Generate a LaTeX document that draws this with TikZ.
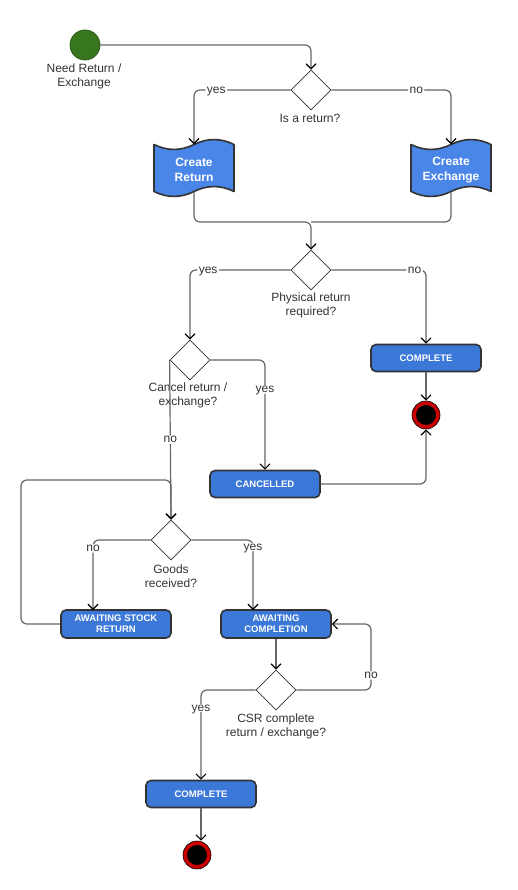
\documentclass[tikz,border=0pt]{standalone}
\usepackage{fontspec}
\setmainfont{Liberation Sans}
\usetikzlibrary{shapes.geometric,arrows.meta,calc}
\definecolor{lgray}{HTML}{666666}
\definecolor{bdark}{HTML}{333333}
\definecolor{boxblue}{HTML}{3C78D8}
\definecolor{tapeblue}{HTML}{4A86E8}
\definecolor{sgreen}{HTML}{38761D}
\definecolor{sgreenb}{HTML}{2A5A15}
\definecolor{ered}{HTML}{CC0000}
\newcommand\tapeat[1]{%
  \draw[draw=bdark,line width=1.6pt,fill=tapeblue,line join=round]
    ({#1-40},144.5) .. controls ({#1-26.67},151.1) and ({#1-13.33},151.1) .. (#1,144.5)
    .. controls ({#1+13.33},137.9) and ({#1+26.67},137.9) .. ({#1+40},144.5)
    -- ({#1+40},191.5)
    .. controls ({#1+26.67},184.9) and ({#1+13.33},184.9) .. (#1,191.5)
    .. controls ({#1-13.33},198.1) and ({#1-26.67},198.1) .. ({#1-40},191.5)
    -- cycle;}
\begin{document}
\begin{tikzpicture}[x=1pt,y=-1pt,
  conn/.style={draw=lgray,line width=1.2pt,rounded corners=6pt,-{Straight Barb[length=5pt,width=10pt,black]}},
  plain/.style={draw=lgray,line width=1.2pt,rounded corners=6pt},
  lab/.style={fill=white,inner xsep=1.5pt,inner ysep=1pt,text height=6.2pt,text depth=0pt,font=\fontsize{12}{14}\selectfont,text=bdark},
  txt/.style={align=center,font=\fontsize{12}{14}\selectfont,text=bdark,inner sep=0pt},
  dec/.style={diamond,aspect=1,draw=bdark,line width=0.8pt,fill=white,minimum width=40pt,minimum height=40pt,inner sep=0pt},
  act/.style={rectangle,rounded corners=5pt,draw=bdark,line width=1.6pt,fill=boxblue,minimum width=110pt,minimum height=27pt,inner sep=0pt,align=center,text=white,font=\fontsize{9.5}{11}\selectfont\bfseries},
  doc/.style={rectangle,minimum width=80pt,minimum height=47pt,inner sep=0pt,align=center,text=white,font=\fontsize{12}{14.5}\selectfont\bfseries},
  endst/.style={circle,draw=black,line width=0.6pt,fill=ered,minimum size=28pt,inner sep=0pt,
     path picture={\fill[black] (path picture bounding box.center) circle (10pt);}},
]
\useasboundingbox (0,0) rectangle (517,890);

% tape shapes (document activities)
\tapeat{194}
\tapeat{451}

% nodes
\node[circle,draw=sgreenb,line width=0.8pt,fill=sgreen,minimum size=30pt,inner sep=0pt] (start) at (85,45) {};
\node[txt] (startlab) at (84,76) {Need Return /\\Exchange};

\node[dec] (d1) at (311,90) {};
\node[txt] (d1lab) at (310,118) {Is a return?};

\node[doc] (cr) at (194,170) {Create\\Return};
\node[doc] (ce) at (451,170) {Create\\Exchange};

\node[dec] (d2) at (311,270) {};
\node[txt] (d2lab) at (311,305) {Physical return\\required?};

\node[act] (comp1) at (426,358) {COMPLETE};
\node[endst] (end1) at (426,415) {};

\node[dec] (d3) at (190,360) {};
\node[txt] (d3lab) at (188,395) {Cancel return /\\exchange?};

\node[act] (canc) at (265,484) {CANCELLED};

\node[dec] (d4) at (171,540) {};
\node[txt] (d4lab) at (171,576) {Goods\\received?};

\node[act,minimum height=28pt] (asr) at (116,624) {AWAITING STOCK\\RETURN};
\node[act,minimum height=28pt] (ac) at (276,624) {AWAITING\\COMPLETION};

\node[dec] (d5) at (276,690) {};
\node[txt] (d5lab) at (276,726) {CSR complete\\return / exchange?};

\node[act] (comp2) at (201,794) {COMPLETE};
\node[endst] (end2) at (197,855) {};

% helper coordinates
\coordinate (m1) at (311,222);
\coordinate (l1) at (21,480);
\coordinate (asrin) at (93,610);
\coordinate (acin) at (253,610);
\coordinate (lp2) at (371,624);

% connectors
\draw[conn] (start.east) -| (d1.north);
\draw[conn] (d1.west) -| node[lab,pos=0.385]{yes} ([yshift=2pt]cr.north);
\draw[conn] (d1.east) -| node[lab,pos=0.355]{no} ([yshift=2pt]ce.north);
\draw[plain] ([yshift=2pt]ce.south) |- (m1);
\draw[conn] ([yshift=2pt]cr.south) |- (m1) -- (d2.north);
\draw[conn] (d2.west) -| node[lab,pos=0.41]{yes} (d3.north);
\draw[conn] (d2.east) -| node[lab,pos=0.44]{no} (comp1.north);
\draw[conn] (comp1.south) -- (end1.north);
\draw[conn] (d3.east) -| node[lab,pos=0.636]{yes} (canc.north);
\draw[conn] (asr.west) -| (l1) -| (d4.north);
\draw[conn] (d3.west) -- node[lab,pos=0.5]{no} (d4.north);
\draw[conn] (canc.east) -| (end1.south);
\draw[conn] (d4.west) -| node[lab,pos=0.56]{no} (asrin);
\draw[conn] (d4.east) -| node[lab,pos=0.55]{yes} (acin);
\draw[conn] (ac.south) -- (d5.north);
\draw[conn] (d5.east) -| node[lab,pos=0.61]{no} (lp2) -- (ac.east);
\draw[conn] (d5.west) -| node[lab,pos=0.6]{yes} (comp2.north);
\draw[conn] (comp2.south) -- (comp2.south |- end2.north);
\end{tikzpicture}
\end{document}
